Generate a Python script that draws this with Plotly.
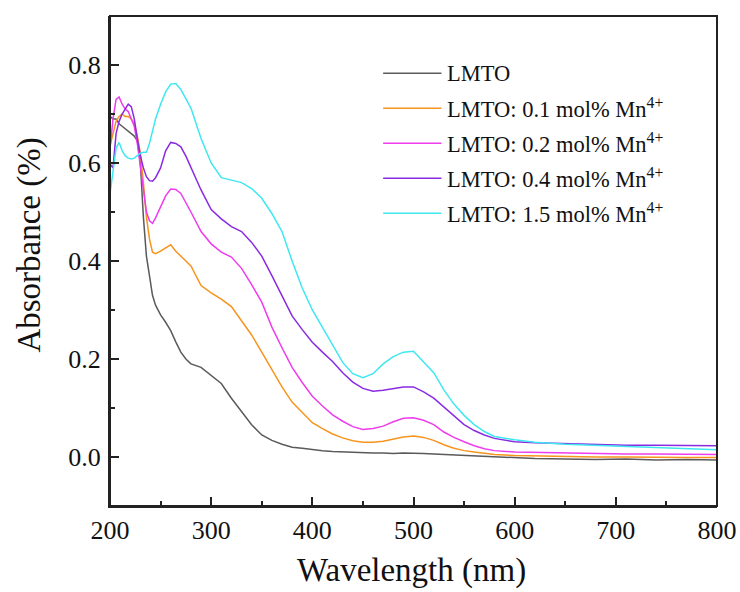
import plotly.graph_objects as go

# Wavelength grid (nm) shared by all spectra
wavelength = [200, 203, 206, 209, 212, 215, 218, 221, 224, 227, 230, 233, 236, 239, 242, 245,
              250, 255, 260, 265, 270, 275, 280, 290, 300, 310, 320, 330, 340, 350, 360, 370,
              380, 390, 400, 410, 420, 430, 440, 450, 460, 470, 480, 490, 500, 510, 520, 530,
              540, 550, 560, 570, 580, 600, 620, 650, 680, 710, 740, 770, 800]

abs_lmto = [0.695, 0.690, 0.690, 0.680, 0.675, 0.670, 0.665, 0.660, 0.655, 0.645, 0.600, 0.490,
            0.410, 0.370, 0.330, 0.310, 0.290, 0.275, 0.258, 0.235, 0.214, 0.200, 0.190, 0.183,
            0.166, 0.150, 0.120, 0.093, 0.066, 0.045, 0.034, 0.026, 0.020, 0.018, 0.015, 0.013,
            0.011, 0.010, 0.009, 0.009, 0.008, 0.008, 0.007, 0.008, 0.008, 0.007, 0.006, 0.005,
            0.004, 0.003, 0.002, 0.001, 0.000, -0.002, -0.003, -0.004, -0.005, -0.004, -0.006,
            -0.005, -0.006]

abs_mn01 = [0.635, 0.660, 0.685, 0.695, 0.700, 0.695, 0.695, 0.690, 0.680, 0.655, 0.620, 0.560,
            0.490, 0.445, 0.418, 0.415, 0.420, 0.427, 0.433, 0.420, 0.409, 0.400, 0.390, 0.350,
            0.335, 0.322, 0.307, 0.277, 0.249, 0.214, 0.178, 0.143, 0.112, 0.090, 0.070, 0.058,
            0.047, 0.039, 0.033, 0.030, 0.030, 0.032, 0.036, 0.041, 0.043, 0.040, 0.034, 0.025,
            0.018, 0.013, 0.010, 0.007, 0.005, 0.003, 0.002, 0.001, 0.000, 0.000, -0.001,
            -0.001, -0.001]

abs_mn02 = [0.630, 0.690, 0.730, 0.735, 0.720, 0.710, 0.705, 0.690, 0.675, 0.640, 0.590, 0.543,
            0.500, 0.482, 0.477, 0.488, 0.510, 0.533, 0.547, 0.546, 0.538, 0.520, 0.500, 0.460,
            0.435, 0.418, 0.408, 0.385, 0.352, 0.316, 0.265, 0.223, 0.183, 0.152, 0.124, 0.104,
            0.086, 0.073, 0.062, 0.056, 0.058, 0.063, 0.072, 0.079, 0.080, 0.075, 0.066, 0.051,
            0.040, 0.031, 0.023, 0.017, 0.013, 0.010, 0.009, 0.008, 0.007, 0.006, 0.006,
            0.005, 0.005]

abs_mn04 = [0.598, 0.590, 0.660, 0.685, 0.700, 0.710, 0.720, 0.715, 0.690, 0.650, 0.615, 0.590,
            0.572, 0.564, 0.563, 0.570, 0.590, 0.625, 0.642, 0.640, 0.633, 0.614, 0.590, 0.545,
            0.505, 0.486, 0.470, 0.460, 0.438, 0.410, 0.370, 0.328, 0.288, 0.260, 0.234, 0.214,
            0.195, 0.172, 0.153, 0.140, 0.134, 0.136, 0.140, 0.143, 0.143, 0.133, 0.120, 0.102,
            0.082, 0.066, 0.054, 0.045, 0.038, 0.031, 0.029, 0.027, 0.025, 0.024, 0.024,
            0.023, 0.023]

abs_mn15 = [0.537, 0.590, 0.630, 0.642, 0.625, 0.615, 0.610, 0.608, 0.610, 0.615, 0.620, 0.622,
            0.622, 0.640, 0.665, 0.690, 0.720, 0.745, 0.761, 0.762, 0.750, 0.730, 0.712, 0.650,
            0.600, 0.570, 0.565, 0.560, 0.548, 0.528, 0.497, 0.460, 0.400, 0.345, 0.300, 0.264,
            0.230, 0.193, 0.170, 0.162, 0.170, 0.190, 0.205, 0.214, 0.216, 0.195, 0.172, 0.137,
            0.108, 0.085, 0.066, 0.052, 0.042, 0.035, 0.030, 0.026, 0.024, 0.021, 0.019,
            0.017, 0.015]

series_names = ["LMTO",
                "LMTO: 0.1 mol% Mn<sup>4+</sup>",
                "LMTO: 0.2 mol% Mn<sup>4+</sup>",
                "LMTO: 0.4 mol% Mn<sup>4+</sup>",
                "LMTO: 1.5 mol% Mn<sup>4+</sup>"]
series_values = [abs_lmto, abs_mn01, abs_mn02, abs_mn04, abs_mn15]
series_colors = ["#5a5a5a", "#f7941d", "#ee3cee", "#8a2be2", "#3fe8f0"]

FONT = "Liberation Serif"

fig = go.Figure()
for name, vals, col in zip(series_names, series_values, series_colors):
    fig.add_trace(go.Scatter(x=wavelength, y=vals, mode="lines", name=name,
                             line=dict(color=col, width=1.5), showlegend=False))

# Hand-placed legend in paper coordinates
leg_x0, leg_x1, leg_text_x = 0.450, 0.546, 0.552
leg_y_top, leg_step = 0.883, 0.0714
for i, (name, col) in enumerate(zip(series_names, series_colors)):
    yy = leg_y_top - i * leg_step
    fig.add_shape(type="line", xref="paper", yref="paper", x0=leg_x0, x1=leg_x1, y0=yy, y1=yy,
                  line=dict(color=col, width=1.5))
    fig.add_annotation(xref="paper", yref="paper", x=leg_text_x, y=yy, text=name,
                       showarrow=False, xanchor="left", yanchor="middle",
                       font=dict(family=FONT, size=22.5, color="#111"))

# Axis titles placed as annotations
fig.add_annotation(xref="paper", yref="paper", x=-0.133, y=0.532, text="Absorbance (%)",
                   textangle=-90, showarrow=False, xanchor="center", yanchor="middle",
                   font=dict(family=FONT, size=33, color="#111"))
fig.add_annotation(xref="paper", yref="paper", x=0.497, y=-0.174, text="Wavelength (nm)",
                   showarrow=False, xanchor="center", yanchor="bottom",
                   font=dict(family=FONT, size=33, color="#111"))

# Plot frame (no ticks on top/right)
fig.add_shape(type="rect", xref="paper", yref="paper", x0=0, x1=1, y0=0, y1=1,
              line=dict(color="#222", width=2), layer="above")

axis_common = dict(showgrid=False, zeroline=False, showline=True, linecolor="#222", linewidth=2,
                   ticks="inside", ticklen=9, tickwidth=1.5, tickcolor="#222", automargin=False,
                   tickfont=dict(family=FONT, size=26, color="#111"))

fig.update_xaxes(range=[200, 800], dtick=100, tick0=200, ticklabelstandoff=0,
                 minor=dict(ticks="inside", ticklen=5, dtick=50, tick0=200, tickcolor="#222", tickwidth=1.5),
                 **axis_common)
fig.update_yaxes(range=[-0.1, 0.9], dtick=0.2, tick0=0, tickformat=".1f", ticklabelstandoff=2,
                 minor=dict(ticks="inside", ticklen=5, dtick=0.1, tick0=0, tickcolor="#222", tickwidth=1.5),
                 **axis_common)

fig.update_layout(width=740, height=592, margin=dict(l=110, r=23, t=16, b=86),
                  plot_bgcolor="white", paper_bgcolor="white")

# Write the page with zero body margin so the 740x592 figure fills the window exactly
html = fig.to_html(full_html=True, include_plotlyjs=True)
html = html.replace("<body>", '<body style="margin:0;padding:0;overflow:hidden;">', 1)
with open("out.html", "w", encoding="utf-8") as fh:
    fh.write(html)
